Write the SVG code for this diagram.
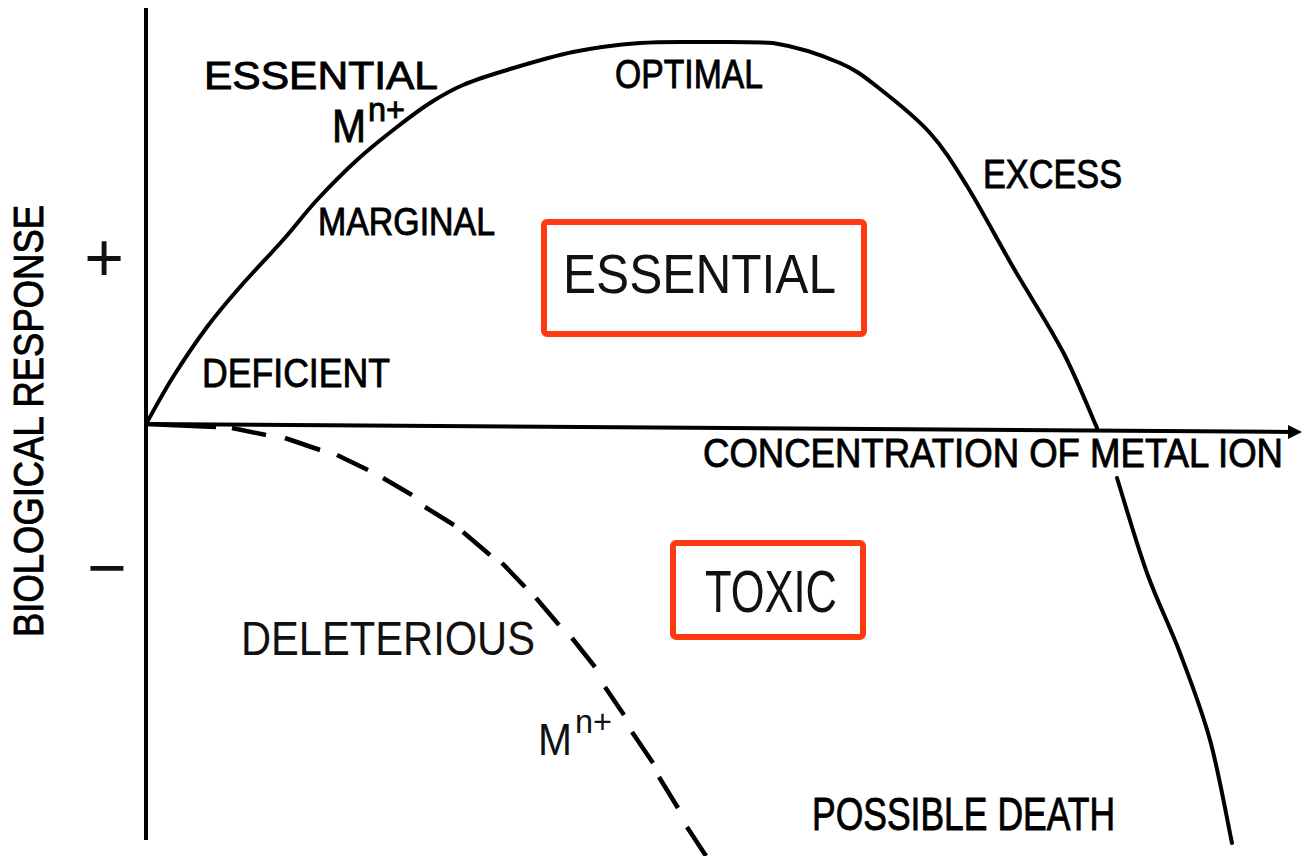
<svg xmlns="http://www.w3.org/2000/svg" width="1302" height="856" viewBox="0 0 1302 856">
<style>
.lbl{font-family:"Liberation Sans",Arial,sans-serif;fill:#000;stroke:#000;stroke-width:0.9}
.big{font-family:"Liberation Sans",Arial,sans-serif;fill:#111;stroke:none}
.axis{stroke:#000;stroke-width:4;fill:none;stroke-linecap:butt}
.curve{stroke:#000;stroke-width:4;fill:none;stroke-linejoin:round;stroke-linecap:round}
.dash{stroke:#000;stroke-width:4.5;fill:none;stroke-linecap:butt}
.box{fill:none;stroke:#FF3A12;stroke-width:6}
</style>
<rect x="0" y="0" width="1302" height="856" fill="#fff"/>
<g id="connectors">
  <g id="axes">
    <line class="axis" x1="146" y1="8" x2="146" y2="840"/>
    <line class="axis" x1="144" y1="424" x2="1292" y2="432"/>
    <polygon points="1302,432 1288,425 1288,439" fill="#000"/>
  </g>
  <path id="essential-curve" class="curve" d="M146,424 C150.5,416.2 162.8,393.2 173,377 C183.2,360.8 195.8,342 207,327 C218.2,312 227.3,301.5 240,287 C252.7,272.5 270.2,254.5 283,240 C295.8,225.5 304.7,213.3 317,200 C329.3,186.7 343.7,172.2 357,160 C370.3,147.8 384.8,136.5 397,127 C409.2,117.5 419,110 430,103 C441,96 450.2,90.5 463,85 C475.8,79.5 488.7,75.5 507,70 C525.3,64.5 550.8,56.5 573,52 C595.2,47.5 617.7,44.7 640,43 C662.3,41.3 684.8,42 707,42 C729.2,42 752,41.5 773,43 C795.2,46.5 822.2,55.3 840,63 C857.8,70.7 865,77.3 880,89 C895,100.7 915.5,116.8 930,133 C944.5,149.2 953.2,163.7 967,186 C980.8,208.3 997,239.3 1013,267 C1029,294.7 1049,325.2 1063,352 C1077,378.8 1091.3,415.3 1097,428 M1117,478 C1122,493.8 1136.5,543.8 1147,573 C1157.5,602.2 1169.5,625.2 1180,653 C1190.5,680.8 1201.3,708.3 1210,740 C1218.7,771.7 1228.3,825.8 1232,843"/>
  <path id="toxic-curve" class="dash" d="M146,424 L216,427 M232,428 L266,435 M285,438 L320,450 M337,455 L368,470 M383,478 L412,495 M425,507 L454,525 M463,532 L490,555 M502,563 L525,587 M536,598 L559,625 M572,638 L595,667 M605,687 L624,715 M632,732 L653,763 M659,777 L678,808 M687,827 L706,856"/>
</g>
<g id="y-axis-label">
  <text class="lbl" transform="translate(43,421) rotate(-90)" x="0" y="0" font-size="42" text-anchor="middle" textLength="432" lengthAdjust="spacingAndGlyphs">BIOLOGICAL RESPONSE</text>
  <text class="big" x="104" y="281" font-size="68" text-anchor="middle">+</text>
  <text class="big" x="107" y="591" font-size="68" text-anchor="middle">−</text>
</g>
<g id="x-axis-label">
  <text class="lbl" x="703" y="467" font-size="41" textLength="580" lengthAdjust="spacingAndGlyphs">CONCENTRATION OF METAL ION</text>
</g>
<g id="label-essential-mn">
  <text class="lbl" x="204" y="89" font-size="38" textLength="234" lengthAdjust="spacingAndGlyphs">ESSENTIAL</text>
  <text class="lbl" x="332" y="142" font-size="46" textLength="34" lengthAdjust="spacingAndGlyphs">M</text>
  <text class="lbl" x="368" y="121" font-size="34" textLength="37" lengthAdjust="spacingAndGlyphs">n+</text>
</g>
<g id="label-optimal"><text class="lbl" x="615" y="88" font-size="40" textLength="148" lengthAdjust="spacingAndGlyphs">OPTIMAL</text></g>
<g id="label-marginal"><text class="lbl" x="318" y="235" font-size="38" textLength="177" lengthAdjust="spacingAndGlyphs">MARGINAL</text></g>
<g id="label-excess"><text class="lbl" x="983" y="188" font-size="40" textLength="139" lengthAdjust="spacingAndGlyphs">EXCESS</text></g>
<g id="label-deficient"><text class="lbl" x="202" y="387" font-size="41" textLength="188" lengthAdjust="spacingAndGlyphs">DEFICIENT</text></g>
<g id="node-essential">
  <rect class="box" x="544" y="222" width="320" height="112" rx="3"/>
  <text class="big" x="563" y="293" font-size="56" textLength="273" lengthAdjust="spacingAndGlyphs">ESSENTIAL</text>
</g>
<g id="node-toxic">
  <rect class="box" x="673" y="543" width="190" height="94" rx="3"/>
  <text class="big" x="705" y="612" font-size="60" textLength="132" lengthAdjust="spacingAndGlyphs">TOXIC</text>
</g>
<g id="label-deleterious"><text class="big" x="241" y="655" font-size="48" textLength="294" lengthAdjust="spacingAndGlyphs">DELETERIOUS</text></g>
<g id="label-toxic-mn">
  <text class="big" x="538" y="755" font-size="45" textLength="34" lengthAdjust="spacingAndGlyphs">M</text>
  <text class="big" x="575" y="733" font-size="34" textLength="37" lengthAdjust="spacingAndGlyphs">n+</text>
</g>
<g id="label-death"><text class="lbl" x="812" y="830" font-size="47" textLength="303" lengthAdjust="spacingAndGlyphs" stroke-width="0.4">POSSIBLE DEATH</text></g>
</svg>
